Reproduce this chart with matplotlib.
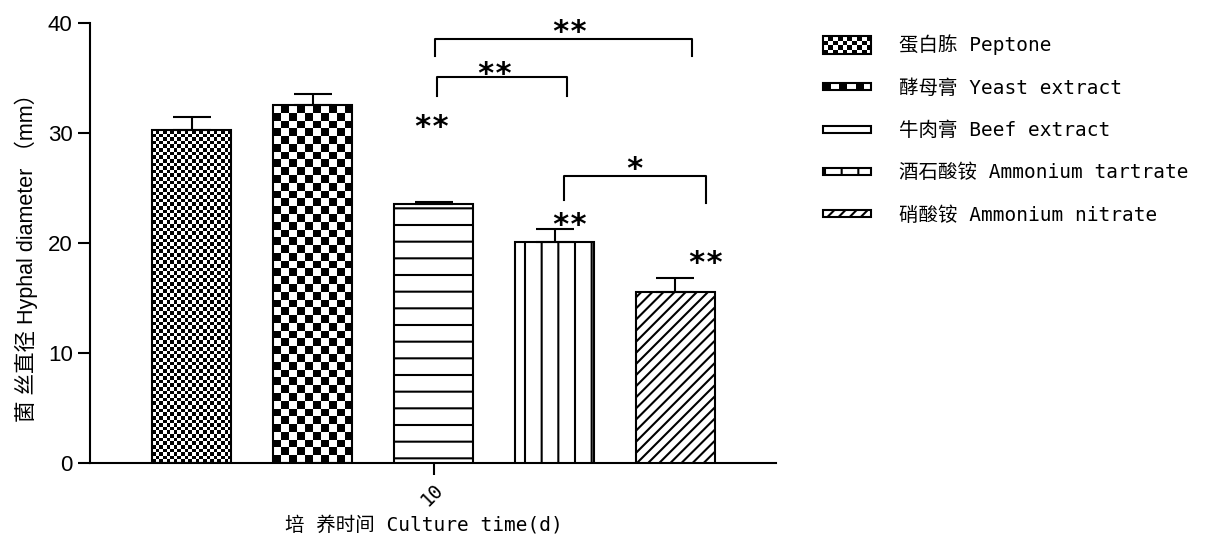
import numpy as np
import matplotlib
matplotlib.use("Agg")
import matplotlib.pyplot as plt
from matplotlib import font_manager
from matplotlib.legend_handler import HandlerBase, HandlerPatch
from matplotlib.image import BboxImage
from matplotlib.transforms import Bbox, TransformedBbox
from matplotlib.patches import Rectangle

# data
media = ["蛋白胨 Peptone", "酵母膏 Yeast extract", "牛肉膏 Beef extract",
         "酒石酸铵 Ammonium tartrate", "硝酸铵 Ammonium nitrate"]
diameter = [30.2, 32.5, 23.55, 20.1, 15.5]
diameter_err = [1.2, 1.0, 0.15, 1.1, 1.3]
culture_day = "10"

# significance brackets: (x1, x2, y, left end, right end, label, label x, label y)
brackets = [
    (2.01, 4.14, 38.5, 37.0, 37.0, "**", 3.12, 39.95),
    (2.03, 3.10, 35.1, 33.3, 33.3, "**", 2.50, 36.1),
    (3.08, 4.25, 26.1, 23.9, 23.65, "*", 3.66, 27.45),
]
# stars above single bars: (x, y, label)
marks = [(1.98, 31.25, "**"), (3.12, 22.35, "**"), (4.25, 18.9, "**")]

hatches = ["", "", "-", "|", "///"]
checker_cells = {0: 3.6, 1: 7.8}   # checkerboard cell size in px

names = {f.name for f in font_manager.fontManager.ttflist}
if "Noto Sans Mono CJK SC" in names:
    mono, mono_size = ["Noto Sans Mono CJK SC"], 16
else:
    mono, mono_size = ["DejaVu Sans Mono", "Noto Sans CJK SC"], 14

plt.rcParams["font.family"] = ["Liberation Sans", "Noto Sans CJK SC"]
plt.rcParams["hatch.linewidth"] = 1.5


def checker(nx, ny):
    return (np.add.outer(np.arange(ny), np.arange(nx)) % 2).astype(float)


fig = plt.figure(figsize=(12.09, 5.42), dpi=100)
ax = fig.add_axes([90 / 1209, 1 - 462.7 / 542, 686 / 1209, 440 / 542])
ax.set_facecolor("none")

x = np.arange(len(diameter))
width = 0.657
faces = ["none" if i in checker_cells else "white" for i in x]
bars = ax.bar(x, diameter, width=width, color=faces, edgecolor="black",
              linewidth=1.5, hatch=hatches, zorder=3)
ax.errorbar(x, diameter, yerr=[np.zeros(len(x)), diameter_err], fmt="none",
            ecolor="black", elinewidth=1.5, capsize=14, capthick=1.5, zorder=4)

ax.set_xlim(-0.841, 4.831)
ax.set_ylim(0, 40)

# checkerboard fills
px_x = ax.transData.transform((1, 0))[0] - ax.transData.transform((0, 0))[0]
px_y = ax.transData.transform((0, 1))[1] - ax.transData.transform((0, 0))[1]
for i, cell in checker_cells.items():
    b = bars[i]
    nx = max(1, round(b.get_width() * px_x / cell))
    ny = max(1, round(b.get_height() * px_y / cell))
    ax.imshow(checker(nx, ny), cmap="gray", vmin=0, vmax=1, origin="lower",
              interpolation="nearest", aspect="auto", zorder=2,
              extent=(b.get_x(), b.get_x() + b.get_width(), 0, b.get_height()))
ax.set_xlim(-0.841, 4.831)
ax.set_ylim(0, 40)

star_font = dict(fontsize=22, family="DejaVu Sans Mono", fontweight="bold")
for x1, x2, y, yl, yr, lab, tx, ty in brackets:
    ax.plot([x1, x1, x2, x2], [yl, y, y, yr], color="black", lw=1.5,
            clip_on=False, zorder=5)
    ax.annotate(lab, (tx, ty), xytext=(0, -12.6), textcoords="offset points",
                ha="center", va="baseline", **star_font)
for tx, ty, lab in marks:
    ax.annotate(lab, (tx, ty), xytext=(0, -12.6), textcoords="offset points",
                ha="center", va="baseline", **star_font)

for s in ["top", "right"]:
    ax.spines[s].set_visible(False)
for s in ["left", "bottom"]:
    ax.spines[s].set_linewidth(1.5)

ax.set_yticks([0, 10, 20, 30, 40])
ax.tick_params(axis="y", length=8.5, width=1.5, labelsize=16, pad=4)
ax.set_xticks([2])
ax.set_xticklabels([culture_day], rotation=45, ha="right", va="top",
                   rotation_mode="anchor", family=mono, fontsize=mono_size)
ax.tick_params(axis="x", length=8.5, width=1.5, pad=4)

ax.set_ylabel("菌 丝直径 Hyphal diameter （mm）", fontsize=15.5)
ax.yaxis.set_label_coords(-0.076, 0.478)
ax.set_xlabel("培 养时间 Culture time(d)", family=mono, fontsize=mono_size,
              va="center")
ax.xaxis.set_label_coords(0.487, -0.141)


class CheckerHandler(HandlerBase):
    def __init__(self, cell_px, height_px):
        super().__init__()
        self.cell_px = cell_px
        self.height_px = height_px

    def create_artists(self, legend, orig_handle, xdescent, ydescent,
                       width, height, fontsize, trans):
        scale = fig.dpi / 72
        h = self.height_px / scale
        y0 = -ydescent + (height - h) / 2
        box = Bbox.from_bounds(-xdescent, y0, width, h)
        nx = max(1, round(width * scale / self.cell_px))
        ny = max(1, round(self.height_px / self.cell_px))
        img = BboxImage(TransformedBbox(box, trans), cmap="gray",
                        interpolation="nearest", origin="lower")
        img.set_data(checker(nx, ny))
        img.set_clim(0, 1)
        frame = Rectangle((-xdescent, y0), width, h, fill=False,
                          edgecolor="black", linewidth=1.5, transform=trans)
        return [img, frame]


def thin_patch(legend, orig_handle, xdescent, ydescent, width, height, fontsize):
    h = 7 * 72 / fig.dpi
    return Rectangle((-xdescent, -ydescent + (height - h) / 2), width, h)


handler_map = {bars[0]: CheckerHandler(5, 18), bars[1]: CheckerHandler(8, 7)}
for b in bars[2:]:
    handler_map[b] = HandlerPatch(patch_func=thin_patch)

ax.legend(list(bars), media, handler_map=handler_map, loc="upper left",
          bbox_to_anchor=(823 / 1209, 1 - 34.5 / 542), bbox_transform=fig.transFigure,
          frameon=False, borderpad=0, borderaxespad=0, handlelength=2.47,
          handleheight=0.93, handletextpad=1.45, labelspacing=1.2,
          prop={"family": mono, "size": mono_size})

fig.savefig("out.png", dpi=100)
